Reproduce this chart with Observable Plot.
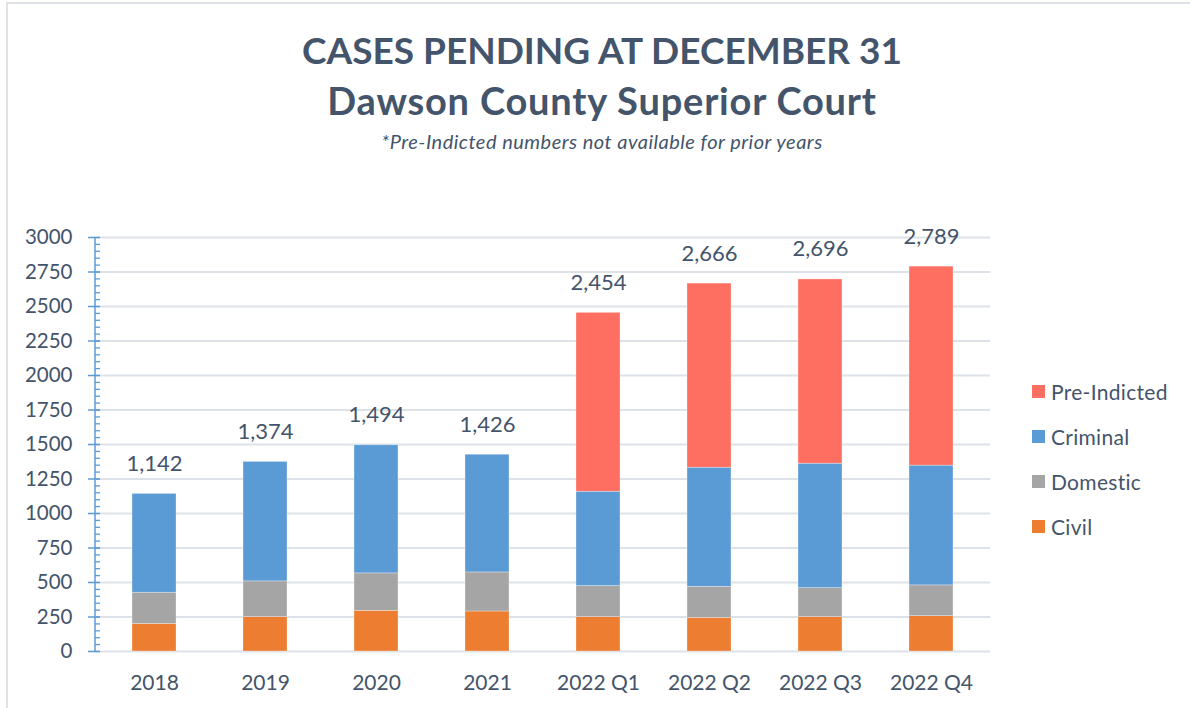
<!DOCTYPE html>
<html>
<head>
<meta charset="utf-8">
<script src="https://cdn.jsdelivr.net/npm/d3@7"></script>
<script src="https://cdn.jsdelivr.net/npm/@observablehq/plot@0.6"></script>
<style>
  html, body { margin: 0; padding: 0; background: #fff; }
  #wrap { position: relative; width: 1190px; height: 708px; overflow: hidden; font-family: Lato, "Open Sans", sans-serif; color: #44546a; }
  #border { position: absolute; left: 6px; top: 2px; width: 1300px; height: 800px; border-top: 2px solid #dfe3e9; border-left: 2px solid #dfe3e9; }
  .t1 { position: absolute; left: 7px; width: 1190px; text-align: center; font-weight: 700; line-height: 1; }
  .sub { position: absolute; left: 7px; width: 1190px; text-align: center; font-style: italic; font-size: 20px; letter-spacing: 0.5px; line-height: 1; }
  #chart { position: absolute; left: 0; top: 170px; }
  #legend { position: absolute; left: 1032px; top: 369px; font-size: 21px; letter-spacing: 0.3px; }
  .li { display: flex; align-items: center; height: 45px; }
  .sw { width: 13px; height: 13px; margin-right: 6px; }
</style>
</head>
<body>
<div id="wrap">
  <div id="border"></div>
  <div class="t1" style="top:31px; font-size:37px">CASES PENDING AT DECEMBER 31</div>
  <div class="t1" style="top:81px; font-size:38px; letter-spacing:0.8px">Dawson County Superior Court</div>
  <div class="sub" style="top:131px">*Pre-Indicted numbers not available for prior years</div>
  <div id="chart"></div>
  <div id="legend"></div>
</div>
<script>
const categories = ["2018", "2019", "2020", "2021", "2022 Q1", "2022 Q2", "2022 Q3", "2022 Q4"];
const civil       = [200, 249, 295, 290, 249, 244, 249, 256];
const domestic    = [226, 259, 271, 283, 225, 225, 210, 223];
const criminal    = [716, 866, 928, 853, 684, 863, 902, 868];
const preIndicted = [null, null, null, null, 1296, 1334, 1335, 1442];
const totals      = [1142, 1374, 1494, 1426, 2454, 2666, 2696, 2789];
const seriesNames = ["Civil", "Domestic", "Criminal", "Pre-Indicted"];
const seriesColors = ["#ed7d31", "#a5a5a5", "#5b9bd5", "#ff6f61"];
const majorTicks = d3.range(0, 3001, 250);
const minorTicks = d3.range(0, 3001, 50);

const textColor = "#44546a";
const axisBlue = "#5b9bd5";

const seriesValues = [civil, domestic, criminal, preIndicted];
const rows = [];
seriesNames.forEach((s, si) => {
  categories.forEach((c, ci) => {
    const v = seriesValues[si][ci];
    if (v != null) rows.push({category: c, series: s, value: v});
  });
});
const totalRows = categories.map((c, i) => ({category: c, total: totals[i]}));

const W = 1190, H = 538;
const mL = 95, mR = 200, mT = 67, mB = 57;

const axisLine = (index, scales, values, dims) => {
  const ns = "http://www.w3.org/2000/svg";
  const line = document.createElementNS(ns, "line");
  line.setAttribute("x1", dims.marginLeft);
  line.setAttribute("x2", dims.marginLeft);
  line.setAttribute("y1", scales.y(0));
  line.setAttribute("y2", scales.y(3000));
  line.setAttribute("stroke", axisBlue);
  line.setAttribute("stroke-width", 1.5);
  return line;
};

const chart = Plot.plot({
  width: W,
  height: H,
  marginLeft: mL,
  marginRight: mR,
  marginTop: mT,
  marginBottom: mB,
  style: {fontFamily: "Lato, 'Open Sans', sans-serif", color: textColor, background: "transparent", overflow: "visible"},
  x: {domain: categories, paddingInner: 0.6, paddingOuter: 0.3, label: null},
  y: {domain: [0, 3000], label: null},
  color: {domain: seriesNames, range: seriesColors},
  marks: [
    Plot.ruleY(majorTicks, {y: d => d, stroke: "#dde2e9", strokeWidth: 1.8, insetLeft: -7}),
    Plot.barY(rows, {x: "category", y: "value", fill: "series", order: seriesNames, stroke: "#ffffff", strokeOpacity: 0.5, strokeWidth: 0.6}),
    Plot.text(totalRows, {x: "category", y: "total", text: d => d3.format(",")(d.total), dy: -30, fontSize: 22, fill: textColor, lineAnchor: "middle"}),
    axisLine,
    Plot.tickY(minorTicks, {y: d => d, stroke: axisBlue, strokeWidth: 1.3, insetRight: (W - mL - mR) - 5}),
    Plot.tickY(majorTicks, {y: d => d, stroke: axisBlue, strokeWidth: 1.3, insetLeft: -7, insetRight: (W - mL - mR) - 5}),
    Plot.axisY({ticks: majorTicks, tickSize: 0, tickPadding: 23, tickFormat: d => String(d), fontSize: 20.5, fill: textColor}),
    Plot.axisX({tickSize: 0, tickPadding: 24, fontSize: 21, fill: textColor})
  ]
});
document.getElementById("chart").appendChild(chart);

const legend = document.getElementById("legend");
[...seriesNames].reverse().forEach(name => {
  const i = seriesNames.indexOf(name);
  const item = document.createElement("div");
  item.className = "li";
  const sw = document.createElement("span");
  sw.className = "sw";
  sw.style.background = seriesColors[i];
  const lab = document.createElement("span");
  lab.textContent = name;
  item.appendChild(sw);
  item.appendChild(lab);
  legend.appendChild(item);
});
</script>
</body>
</html>
